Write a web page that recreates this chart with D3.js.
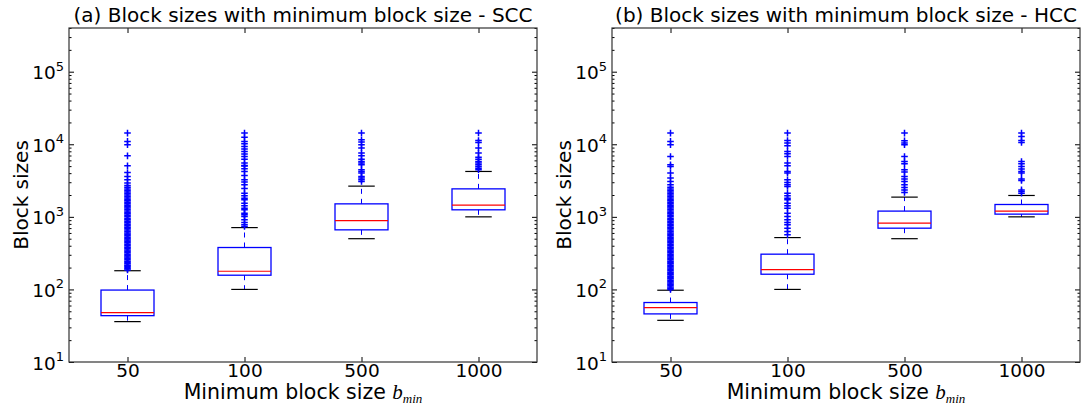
<!DOCTYPE html>
<html><head><meta charset="utf-8">
<script src="https://cdn.jsdelivr.net/npm/d3@7"></script>
<style>
body{margin:0;background:#fff}
text{font-family:"DejaVu Sans",sans-serif;fill:#000}
</style>
</head><body>
<svg id="c" width="1087" height="407"></svg>
<script>
// ---------------- DATA ----------------
const categories = ["50", "100", "500", "1000"];
const yTickValues = [1e1, 1e2, 1e3, 1e4, 1e5];
const yTickExponents = ["1", "2", "3", "4", "5"];

// (a) SCC
const sccLow  = [36, 100, 500, 1000];
const sccQ1   = [43.5, 157, 662, 1250];
const sccMed  = [48, 178, 889, 1450];
const sccQ3   = [98, 378, 1510, 2430];
const sccHigh = [181, 711, 2650, 4220];
const sccFliers50 = [185, 192, 200, 208, 216, 225, 235, 245, 256, 268, 280, 292, 305, 320, 335, 350, 365, 380, 400, 420, 440, 460, 480, 500, 525, 550, 575, 600, 630, 660, 690, 720, 755, 790, 830, 870, 910, 950, 1000, 1050, 1100, 1150, 1200, 1260, 1320, 1380, 1450, 1520, 1590, 1660, 1740, 1820, 1900, 2000, 2100, 2200, 2300, 2420, 2550, 2700, 2920, 3240, 3600, 4080, 5050, 6930, 9840, 10950, 14250];
const sccFliers100 = [735, 776, 834, 910, 1010, 1066, 1124, 1250, 1318, 1418, 1545, 1716, 1810, 1950, 2120, 2450, 2760, 3010, 3240, 3700, 4220, 4600, 5000, 5100, 5500, 6200, 6790, 7330, 7960, 8600, 9330, 10150, 10950, 12500, 14260];
const sccFliers500 = [3070, 3240, 3420, 3600, 4010, 4220, 4450, 5210, 5500, 5790, 6240, 6930, 7570, 8870, 9840, 10720, 11540, 14300];
const sccFliers1000 = [4450, 4690, 4940, 5210, 5500, 5790, 6240, 6650, 7570, 8870, 10590, 11270, 14300];

// (b) HCC
const hccLow  = [37.5, 100, 500, 1000];
const hccQ1   = [46, 162, 698, 1090];
const hccMed  = [56, 188, 819, 1200];
const hccQ3   = [66, 306, 1200, 1480];
const hccHigh = [97.5, 518, 1870, 1970];
const hccFliers50 = [100, 104, 108, 113, 118, 123, 128, 134, 140, 146, 152, 159, 166, 173, 181, 189, 197, 206, 215, 225, 235, 245, 256, 268, 280, 292, 305, 320, 335, 350, 365, 380, 400, 420, 440, 460, 480, 500, 525, 550, 575, 600, 630, 660, 690, 720, 755, 790, 830, 870, 910, 950, 1000, 1050, 1100, 1150, 1200, 1260, 1320, 1380, 1450, 1520, 1590, 1660, 1740, 1820, 1900, 2000, 2100, 2200, 2300, 2420, 2550, 2760, 3070, 3420, 4010, 4940, 5210, 6790, 9840, 10950, 14260];
const hccFliers100 = [565, 627, 698, 776, 834, 910, 1010, 1124, 1318, 1418, 1545, 1716, 1810, 1950, 2120, 2620, 2760, 2970, 3240, 4010, 4220, 5050, 5500, 6790, 7400, 7960, 9530, 10400, 11270, 14260];
const hccFliers500 = [2160, 2350, 2540, 2760, 3070, 3310, 3600, 4140, 4450, 5380, 5790, 6790, 9840, 10400, 11160, 14260];
const hccFliers1000 = [2120, 2230, 2350, 3170, 3310, 4010, 4220, 4550, 4940, 5380, 5790, 10590, 11270, 12800, 14300];

const titles = ["(a) Block sizes with minimum block size - SCC", "(b) Block sizes with minimum block size - HCC"];

// ---------------- LAYOUT ----------------
const svg = d3.select("#c");
const W = 468, TOP = 28, BOTTOM = 362;
const panelX = [69, 612];
const y = d3.scaleLog().domain([10, 4e5]).range([BOTTOM, TOP]);

const minorTicks = [];
for (let k = 1; k <= 5; k++) for (let m = 2; m <= 9; m++) { const v = m * Math.pow(10, k); if (v <= 4e5) minorTicks.push(v); }

const panels = [
  {title: titles[0], x0: panelX[0], lo: sccLow, q1: sccQ1, med: sccMed, q3: sccQ3, hi: sccHigh, fl: [sccFliers50, sccFliers100, sccFliers500, sccFliers1000]},
  {title: titles[1], x0: panelX[1], lo: hccLow, q1: hccQ1, med: hccMed, q3: hccQ3, hi: hccHigh, fl: [hccFliers50, hccFliers100, hccFliers500, hccFliers1000]}
];

panels.forEach(p => {
  const g = svg.append("g").attr("transform", `translate(${p.x0},0)`);
  const x = d3.scalePoint().domain(categories).range([0, W]).padding(0.5);
  const bw = x.step() * 0.453;
  const data = categories.map((c, i) => ({c, lo: p.lo[i], q1: p.q1[i], med: p.med[i], q3: p.q3[i], hi: p.hi[i], fl: p.fl[i]}));

  const box = g.selectAll("g.box").data(data).enter().append("g").attr("class", "box");
  // whiskers (dashed blue)
  box.append("line").attr("x1", d => x(d.c)).attr("x2", d => x(d.c))
    .attr("y1", d => y(d.q3)).attr("y2", d => y(d.hi))
    .attr("stroke", "#0000ff").attr("stroke-width", 1).attr("stroke-dasharray", "5,5");
  box.append("line").attr("x1", d => x(d.c)).attr("x2", d => x(d.c))
    .attr("y1", d => y(d.q1)).attr("y2", d => y(d.lo))
    .attr("stroke", "#0000ff").attr("stroke-width", 1).attr("stroke-dasharray", "5,5");
  // caps (black)
  ["hi", "lo"].forEach(k => {
    box.append("line").attr("x1", d => x(d.c) - bw / 4).attr("x2", d => x(d.c) + bw / 4)
      .attr("y1", d => y(d[k])).attr("y2", d => y(d[k]))
      .attr("stroke", "#000").attr("stroke-width", 1.2);
  });
  // box
  box.append("rect").attr("x", d => x(d.c) - bw / 2).attr("width", bw)
    .attr("y", d => y(d.q3)).attr("height", d => y(d.q1) - y(d.q3))
    .attr("fill", "none").attr("stroke", "#0000ff").attr("stroke-width", 1.3);
  // median
  box.append("line").attr("x1", d => x(d.c) - bw / 2).attr("x2", d => x(d.c) + bw / 2)
    .attr("y1", d => y(d.med)).attr("y2", d => y(d.med))
    .attr("stroke", "#ff0000").attr("stroke-width", 1.2);
  // fliers
  box.each(function(d) {
    d3.select(this).selectAll("path.fl").data(d.fl).enter().append("path")
      .attr("class", "fl")
      .attr("d", v => `M${x(d.c) - 3.3},${y(v)}H${x(d.c) + 3.3}M${x(d.c)},${y(v) - 3.3}V${y(v) + 3.3}`)
      .attr("stroke", "#0000ff").attr("stroke-width", 1.5).attr("fill", "none");
  });

  // axes (inward ticks)
  const axStyle = sel => { sel.select(".domain").remove(); sel.selectAll("line").attr("stroke", "#000"); sel.selectAll("text").remove(); };
  g.append("g").call(d3.axisLeft(y).tickValues(yTickValues).tickSize(-5).tickFormat("")).call(axStyle);
  g.append("g").call(d3.axisLeft(y).tickValues(minorTicks).tickSize(-2.5).tickFormat("")).call(axStyle);
  g.append("g").attr("transform", `translate(${W},0)`).call(d3.axisRight(y).tickValues(yTickValues).tickSize(-5).tickFormat("")).call(axStyle);
  g.append("g").attr("transform", `translate(${W},0)`).call(d3.axisRight(y).tickValues(minorTicks).tickSize(-2.5).tickFormat("")).call(axStyle);
  g.append("g").attr("transform", `translate(0,${TOP})`).call(d3.axisTop(x).tickSize(-5).tickFormat("")).call(axStyle);
  const xb = g.append("g").attr("transform", `translate(0,${BOTTOM})`)
    .call(d3.axisBottom(x).tickSize(-5).tickPadding(2));
  xb.select(".domain").remove();
  xb.selectAll("line").attr("stroke", "#000");
  xb.selectAll("text").style("font-size", "18.5px").style("font-family", "DejaVu Sans").attr("fill", "#000");

  // frame
  g.append("rect").attr("x", 0).attr("y", TOP).attr("width", W).attr("height", BOTTOM - TOP)
    .attr("fill", "none").attr("stroke", "#333").attr("stroke-width", 1.2);

  // y tick labels 10^k
  const yl = g.selectAll("text.yl").data(yTickValues).enter().append("text").attr("class", "yl")
    .attr("x", -5).attr("y", v => y(v) + 7.5).attr("text-anchor", "end").style("font-size", "18.5px");
  yl.append("tspan").text("10");
  yl.append("tspan").attr("dy", -8.5).style("font-size", "13px").text((v, i) => yTickExponents[i]);

  // title
  g.append("text").attr("x", W / 2).attr("y", 22).attr("text-anchor", "middle")
    .style("font-size", "20px").text(p.title);

  // x label
  const xl = g.append("text").attr("x", W / 2).attr("y", 399).attr("text-anchor", "middle").style("font-size", "20.5px");
  xl.append("tspan").text("Minimum block size ");
  xl.append("tspan").style("font-family", "Liberation Serif").style("font-style", "italic").style("font-size", "21px").text("b");
  xl.append("tspan").attr("dy", 4).style("font-family", "Liberation Serif").style("font-style", "italic").style("font-size", "13px").text("min");

  // y label
  g.append("text").attr("transform", `translate(-41,${(TOP + BOTTOM) / 2}) rotate(-90)`)
    .attr("text-anchor", "middle").style("font-size", "20px").text("Block sizes");
});
</script>
</body></html>
